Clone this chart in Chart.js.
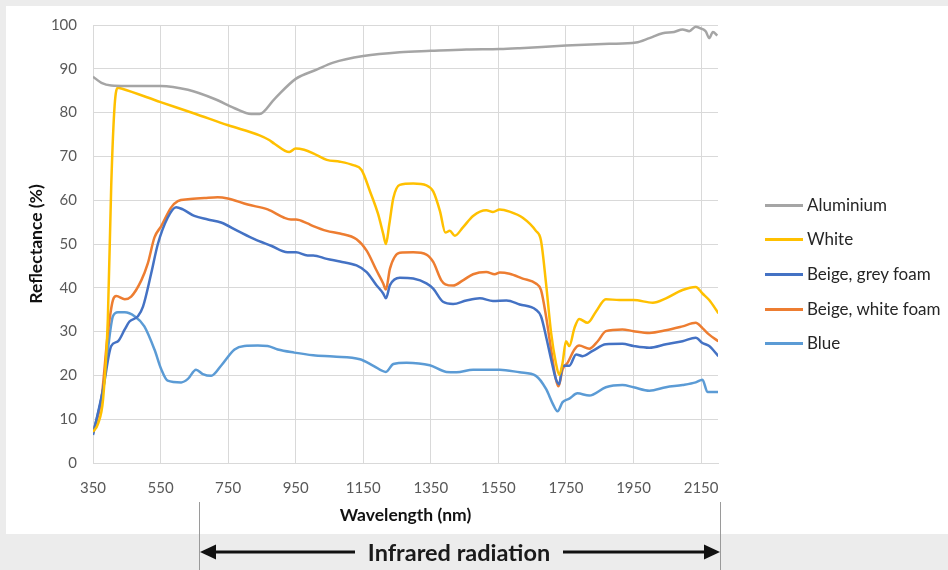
<!DOCTYPE html>
<html>
<head>
<meta charset="utf-8">
<script src="https://cdn.jsdelivr.net/npm/chart.js@4/dist/chart.umd.min.js"></script>
<style>
  html, body { margin: 0; padding: 0; }
  body { width: 948px; height: 570px; background: #ececec; position: relative; overflow: hidden; font-family: Lato, sans-serif; }
  #panel { position: absolute; left: 6px; top: 6px; width: 942px; height: 528px; background: #fff; }
  #chart { position: absolute; left: 0; top: 0; }
  #legend { position: absolute; left: 765px; top: 0; }
  .item { position: absolute; left: 0; height: 20px; white-space: nowrap; font-size: 17px; color: #262626; }
  .item span.swatch { position: absolute; left: 0; top: 9px; width: 38px; height: 3px; }
  .item span.label { position: absolute; left: 42px; top: 0; line-height: 20px; }
  .vline { position: absolute; top: 502px; width: 1px; height: 68px; background: #9a9a9a; }
  #ir { position: absolute; left: 0; top: 538px; width: 948px; height: 30px; }
  #irText { position: absolute; top: 537px; left: 339px; width: 240px; text-align: center; font-weight: bold; font-size: 23.5px; line-height: 30px; color: #1a1a1a; }
</style>
</head>
<body>
<div id="panel"></div>
<canvas id="chart" width="948" height="570"></canvas>
<div id="legend"></div>
<div class="vline" style="left:199px"></div>
<div class="vline" style="left:720px"></div>
<svg id="ir" width="948" height="30">
  <line x1="212" y1="14" x2="355" y2="14" stroke="#111" stroke-width="3"/>
  <polygon points="200,14 216,6.5 216,21.5" fill="#111"/>
  <line x1="563" y1="14" x2="708" y2="14" stroke="#111" stroke-width="3"/>
  <polygon points="720,14 704,6.5 704,21.5" fill="#111"/>
</svg>
<div id="irText">Infrared radiation</div>
<script>
const xTicks = [350, 550, 750, 950, 1150, 1350, 1550, 1750, 1950, 2150];

const seriesNames = ['Aluminium', 'White', 'Beige, grey foam', 'Beige, white foam', 'Blue'];
const seriesColors = ['#a5a5a5', '#ffc000', '#4472c4', '#ed7d31', '#5b9bd5'];

const aluWl = [350, 375, 404, 450, 550, 631, 710, 769, 818, 843, 887, 950, 1012, 1061, 1150, 1258, 1350, 1455, 1554, 1613, 1750, 1878, 1957, 1997, 2036, 2070, 2095, 2115, 2134, 2150, 2164, 2174, 2185, 2198];
const aluVal = [88.2, 86.8, 86.2, 86.1, 86.1, 85.2, 83.1, 81, 79.7, 79.7, 83.1, 87.7, 89.8, 91.4, 92.9, 93.8, 94.1, 94.4, 94.5, 94.7, 95.3, 95.7, 96, 97, 98.1, 98.4, 99, 98.6, 99.6, 99.2, 98.5, 97, 98.4, 97.6];

const whiteWl = [350, 365, 380, 394, 404, 414, 424, 434, 550, 650, 750, 843, 870, 887, 931, 950, 975, 1002, 1042, 1081, 1120, 1145, 1170, 1194, 1209, 1217, 1227, 1239, 1258, 1298, 1337, 1357, 1377, 1393, 1406, 1421, 1445, 1475, 1514, 1534, 1554, 1583, 1622, 1661, 1676, 1691, 1706, 1720, 1730, 1740, 1750, 1760, 1775, 1789, 1814, 1839, 1868, 1908, 1950, 2007, 2046, 2095, 2134, 2154, 2174, 2201];
const whiteVal = [7.1, 9, 14.7, 33, 63.5, 81.6, 85.7, 85.5, 82.4, 79.8, 77.1, 74.8, 73.8, 72.9, 71, 71.8, 71.5, 70.7, 69.2, 68.8, 68, 66.9, 62, 56.8, 52.3, 50, 54.5, 60.5, 63.5, 63.8, 63.4, 62, 57.5, 52.6, 53, 51.9, 53.8, 56.4, 57.7, 57.3, 57.9, 57.4, 56, 53, 50.8, 41, 29.7, 22.9, 20.1, 22.9, 27.8, 26.7, 30.8, 32.9, 32, 34.6, 37.4, 37.2, 37.2, 36.6, 37.6, 39.5, 40.2, 38.7, 37.2, 34.2];

const greyFoamWl = [350, 380, 404, 424, 444, 458, 483, 498, 522, 542, 571, 596, 616, 650, 690, 729, 778, 828, 877, 926, 951, 985, 1002, 1042, 1081, 1130, 1160, 1189, 1209, 1217, 1229, 1258, 1298, 1337, 1357, 1386, 1416, 1455, 1495, 1534, 1574, 1613, 1661, 1676, 1691, 1706, 1720, 1730, 1740, 1760, 1780, 1799, 1829, 1868, 1917, 1950, 1997, 2046, 2095, 2134, 2154, 2174, 2201];
const greyFoamVal = [6.4, 16.9, 26.7, 27.8, 30.5, 32.3, 33.5, 35.7, 43.2, 50, 56, 58.4, 57.9, 56.4, 55.6, 54.9, 53, 51.1, 49.6, 48.1, 48.1, 47.4, 47.4, 46.6, 46, 45.1, 43.6, 40.6, 38.7, 37.6, 40.6, 42.3, 42.1, 41, 39.8, 36.8, 36.3, 37.1, 37.6, 37, 37.1, 36.2, 35, 33.5, 28.9, 23.7, 19.2, 18, 22.2, 22.2, 24.8, 24.4, 25.6, 27.1, 27.2, 26.7, 26.3, 27.1, 27.8, 28.6, 27.4, 26.7, 24.4];

const whiteFoamWl = [350, 375, 394, 409, 419, 444, 463, 493, 512, 532, 552, 581, 601, 631, 680, 719, 749, 808, 867, 916, 936, 951, 985, 1002, 1042, 1081, 1130, 1160, 1189, 1209, 1217, 1229, 1258, 1298, 1337, 1357, 1381, 1393, 1416, 1445, 1475, 1514, 1539, 1554, 1583, 1622, 1661, 1676, 1691, 1706, 1720, 1728, 1740, 1755, 1775, 1789, 1819, 1844, 1868, 1917, 1950, 1997, 2046, 2095, 2134, 2154, 2174, 2201];
const whiteFoamVal = [6.8, 14.7, 29.7, 37.2, 38.1, 37.4, 38, 41.7, 45.5, 51.5, 54.1, 58.3, 59.8, 60.2, 60.5, 60.7, 60.4, 59, 57.9, 56, 55.6, 55.6, 54.7, 54.1, 53, 52.4, 51.1, 48.5, 44, 41, 39.6, 44.4, 48, 48.1, 47.6, 45.9, 41.7, 40.8, 40.5, 41.7, 43.1, 43.6, 43.1, 43.5, 43.2, 42.1, 41, 39.5, 33.5, 25.9, 19.2, 17.5, 21.4, 22.9, 25.9, 26.8, 26.1, 27.8, 30.1, 30.5, 30.1, 29.7, 30.3, 31.2, 32, 30.8, 29.3, 27.8];

const blueWl = [350, 380, 394, 409, 424, 444, 473, 502, 532, 552, 571, 611, 631, 655, 675, 700, 729, 769, 798, 838, 867, 897, 946, 1002, 1061, 1140, 1180, 1217, 1239, 1278, 1347, 1396, 1426, 1475, 1554, 1613, 1661, 1691, 1711, 1725, 1740, 1760, 1784, 1819, 1868, 1917, 1950, 1997, 2046, 2095, 2134, 2154, 2169, 2201];
const blueVal = [6.8, 16.9, 25.9, 33.5, 34.4, 34.4, 33.5, 31.2, 25.9, 21.4, 18.8, 18.4, 19.2, 21.3, 20.3, 19.9, 22.2, 25.9, 26.7, 26.8, 26.7, 25.9, 25.2, 24.6, 24.3, 23.7, 22.2, 20.8, 22.6, 22.9, 22.3, 20.8, 20.7, 21.3, 21.3, 20.7, 19.9, 16.9, 13.5, 11.8, 13.9, 14.7, 15.9, 15.4, 17.3, 17.8, 17.3, 16.5, 17.3, 17.8, 18.4, 19, 16.2, 16.2];

const seriesWl = [aluWl, whiteWl, greyFoamWl, whiteFoamWl, blueWl];
const seriesVal = [aluVal, whiteVal, greyFoamVal, whiteFoamVal, blueVal];

const datasets = seriesNames.map((name, i) => ({
  label: name,
  data: seriesWl[i].map((w, k) => ({ x: w, y: seriesVal[i][k] })),
  borderColor: seriesColors[i],
  backgroundColor: seriesColors[i],
  borderWidth: 2.5,
  pointRadius: 0,
  cubicInterpolationMode: 'monotone',
  fill: false
}));

const tickFont = { family: 'Lato', size: 15 };
const titleFont = { family: 'Lato', size: 17.5, weight: 'bold' };

new Chart(document.getElementById('chart'), {
  type: 'line',
  data: { datasets },
  options: {
    responsive: false,
    animation: false,
    layout: { padding: { left: 0, top: 20, right: 230, bottom: 35 } },
    plugins: { legend: { display: false }, tooltip: { enabled: false } },
    scales: {
      x: {
        type: 'linear',
        min: 350,
        max: 2200,
        afterBuildTicks: axis => { axis.ticks = xTicks.map(v => ({ value: v })); },
        afterFit: scale => { scale.height = 72; },
        grid: { color: '#d9d9d9', lineWidth: 1, drawTicks: false },
        border: { color: '#d9d9d9' },
        ticks: { color: '#595959', font: tickFont, padding: 16, maxRotation: 0, autoSkip: false, callback: v => String(v) },
        title: { display: true, text: 'Wavelength (nm)', color: '#111', font: titleFont, padding: { top: 0, bottom: 9 } }
      },
      y: {
        min: 0,
        max: 100,
        afterFit: scale => { scale.width = 93; },
        grid: { color: '#d9d9d9', lineWidth: 1, drawTicks: false },
        border: { color: '#d9d9d9' },
        ticks: { stepSize: 10, color: '#595959', font: tickFont, padding: 16 },
        title: { display: true, text: 'Reflectance (%)', color: '#111', font: titleFont, padding: { top: 26, bottom: 0 } }
      }
    }
  }
});

// legend built from the same names and colours
const legendY = [205, 239, 274, 309, 343];
const legend = document.getElementById('legend');
seriesNames.forEach((name, i) => {
  const item = document.createElement('div');
  item.className = 'item';
  item.style.top = (legendY[i] - 10) + 'px';
  item.innerHTML = '<span class="swatch" style="background:' + seriesColors[i] + '"></span><span class="label">' + name + '</span>';
  legend.appendChild(item);
});
</script>
</body>
</html>
